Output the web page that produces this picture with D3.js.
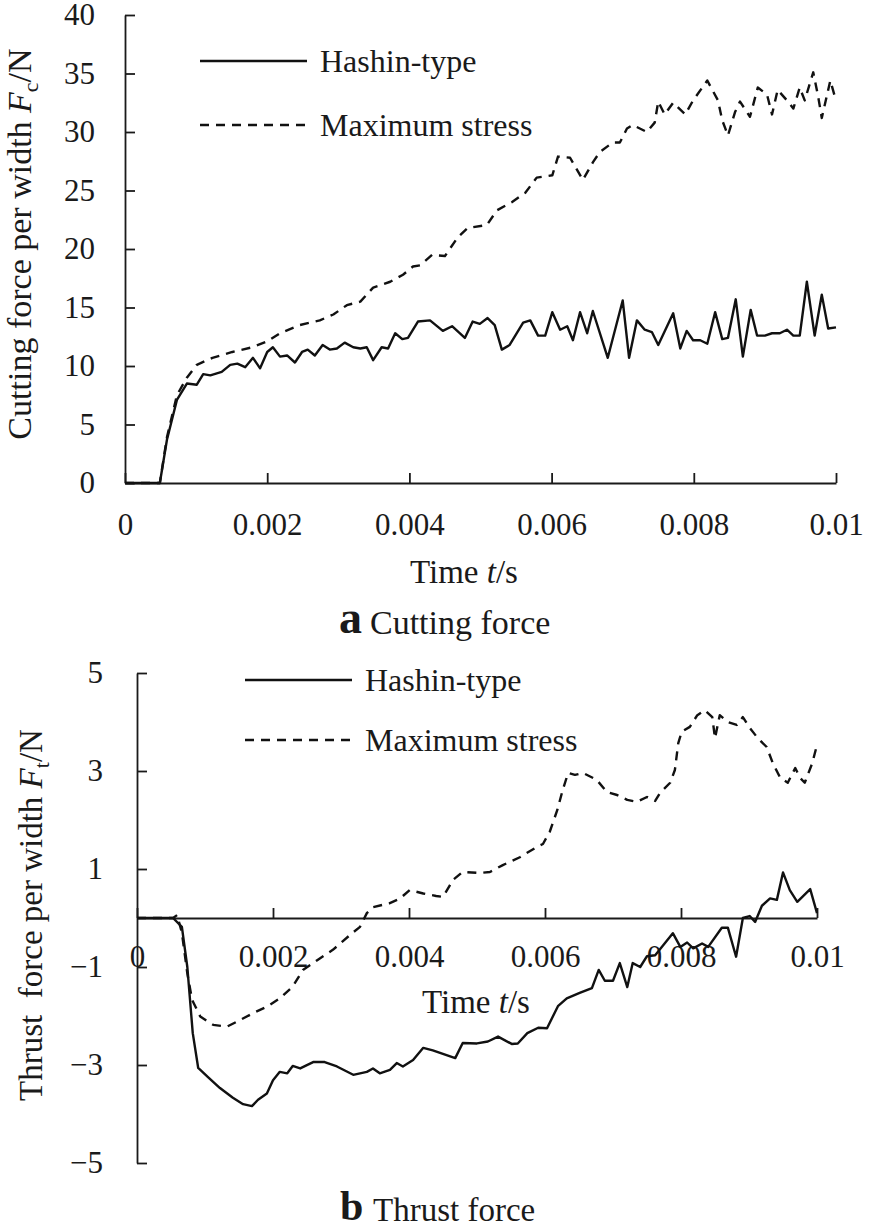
<!DOCTYPE html>
<html>
<head>
<meta charset="utf-8">
<script src="https://cdn.jsdelivr.net/npm/d3@7"></script>
<style>
  html, body { margin: 0; padding: 0; background: #fff; }
  svg { display: block; }
  text { font-family: "Liberation Serif", "Times New Roman", serif; fill: #1a1a1a; }
</style>
</head>
<body>
<svg id="chart" width="874" height="1232"></svg>
<script>
// ---------------- DATA ----------------
const xTicks = [0, 0.002, 0.004, 0.006, 0.008, 0.01];
const xTickLabels = ["0", "0.002", "0.004", "0.006", "0.008", "0.01"];
const yTicksA = [0, 5, 10, 15, 20, 25, 30, 35, 40];
const yTicksB = [5, 3, 1, -1, -3, -5];
const seriesNames = ["Hashin-type", "Maximum stress"];

// (a) Cutting force, Hashin-type
const timeCutHashin = [0, 0.00049, 0.00059, 0.00073, 0.00087, 0.00101, 0.0011, 0.0012, 0.00136, 0.00148, 0.00158, 0.00169, 0.0018, 0.0019, 0.002, 0.00208, 0.00218, 0.00228, 0.00239, 0.00249, 0.00257, 0.00267, 0.00278, 0.00288, 0.00298, 0.00309, 0.00321, 0.00331, 0.0034, 0.00349, 0.00361, 0.0037, 0.0038, 0.0039, 0.00398, 0.00412, 0.00429, 0.00447, 0.0046, 0.00478, 0.00489, 0.00499, 0.0051, 0.0052, 0.0053, 0.00541, 0.0056, 0.0057, 0.00581, 0.00591, 0.00601, 0.00612, 0.00622, 0.0063, 0.0064, 0.0065, 0.00658, 0.00679, 0.007, 0.00709, 0.0072, 0.00731, 0.00741, 0.0075, 0.00771, 0.00781, 0.0079, 0.00799, 0.00809, 0.00819, 0.0083, 0.0084, 0.00848, 0.00859, 0.00869, 0.0088, 0.00889, 0.009, 0.0091, 0.00921, 0.00931, 0.0094, 0.00949, 0.00959, 0.0097, 0.0098, 0.00989, 0.01];
const forceCutHashin = [0, 0, 3.7, 7.1, 8.5, 8.4, 9.3, 9.2, 9.5, 10.1, 10.2, 9.9, 10.7, 9.8, 11.2, 11.6, 10.8, 10.9, 10.3, 11.2, 11.4, 10.9, 11.8, 11.4, 11.5, 12.0, 11.6, 11.5, 11.6, 10.5, 11.6, 11.5, 12.8, 12.3, 12.4, 13.8, 13.9, 13.0, 13.4, 12.4, 13.8, 13.6, 14.1, 13.5, 11.4, 11.8, 13.7, 13.9, 12.6, 12.6, 14.6, 13.1, 13.4, 12.2, 14.6, 12.8, 14.7, 10.7, 15.6, 10.7, 13.9, 13.1, 12.9, 11.8, 14.5, 11.5, 13.0, 12.2, 12.2, 11.9, 14.6, 12.3, 12.4, 15.7, 10.8, 14.8, 12.6, 12.6, 12.8, 12.8, 13.1, 12.6, 12.6, 17.2, 12.6, 16.1, 13.2, 13.3];

// (a) Cutting force, Maximum stress
const timeCutMax = [0, 0.00049, 0.00059, 0.00073, 0.00087, 0.00101, 0.00123, 0.00151, 0.00179, 0.002, 0.00218, 0.00246, 0.00274, 0.00293, 0.00312, 0.00331, 0.00349, 0.00373, 0.00391, 0.00405, 0.00415, 0.00432, 0.0045, 0.00468, 0.00482, 0.00509, 0.00523, 0.00544, 0.00563, 0.00579, 0.00601, 0.00609, 0.00626, 0.00644, 0.00658, 0.00668, 0.00686, 0.00696, 0.00706, 0.00714, 0.00734, 0.00745, 0.0075, 0.00759, 0.00771, 0.00788, 0.00799, 0.00819, 0.00834, 0.0084, 0.00848, 0.00858, 0.00865, 0.00879, 0.0089, 0.00903, 0.0091, 0.00918, 0.00931, 0.0094, 0.00949, 0.00956, 0.00968, 0.00975, 0.0098, 0.00992, 0.00999];
const forceCutMax = [0, 0, 3.9, 7.5, 9.0, 10.1, 10.7, 11.2, 11.6, 12.1, 12.8, 13.5, 13.9, 14.4, 15.2, 15.5, 16.7, 17.2, 17.8, 18.5, 18.6, 19.5, 19.4, 21.0, 21.8, 22.05, 23.3, 24.0, 24.8, 26.1, 26.3, 27.9, 27.8, 25.9, 27.4, 28.3, 29.1, 29.1, 30.3, 30.6, 30.0, 30.8, 32.6, 31.5, 32.5, 31.5, 32.7, 34.4, 32.7, 31.0, 29.7, 31.7, 32.6, 31.3, 33.8, 33.2, 31.5, 33.6, 32.7, 32.0, 33.8, 32.7, 35.1, 33.0, 31.2, 34.4, 32.9];

// (b) Thrust force, Hashin-type
const timeThrHashin = [0, 0.00053, 0.00066, 0.00074, 0.00082, 0.0009, 0.00104, 0.00122, 0.00141, 0.00156, 0.00169, 0.00178, 0.00191, 0.002, 0.0021, 0.00221, 0.00229, 0.0024, 0.00259, 0.00276, 0.00294, 0.00318, 0.00338, 0.00347, 0.00357, 0.00372, 0.00382, 0.00391, 0.00406, 0.00421, 0.00435, 0.00468, 0.00479, 0.005, 0.00516, 0.00531, 0.00551, 0.0056, 0.00574, 0.0059, 0.00603, 0.00619, 0.00632, 0.00651, 0.00669, 0.00679, 0.00688, 0.007, 0.0071, 0.00721, 0.00729, 0.0074, 0.0075, 0.00762, 0.00788, 0.00799, 0.00809, 0.00818, 0.00831, 0.0084, 0.0086, 0.00869, 0.00881, 0.00891, 0.00901, 0.00909, 0.00919, 0.00931, 0.00941, 0.0095, 0.0096, 0.00971, 0.0099, 0.01];
const forceThrHashin = [0, 0, -0.18, -1.0, -2.35, -3.06, -3.24, -3.47, -3.67, -3.8, -3.84, -3.71, -3.58, -3.31, -3.14, -3.17, -3.02, -3.07, -2.94, -2.94, -3.03, -3.2, -3.14, -3.07, -3.17, -3.1, -2.96, -3.03, -2.9, -2.65, -2.7, -2.86, -2.55, -2.56, -2.52, -2.42, -2.57, -2.56, -2.35, -2.24, -2.25, -1.8, -1.64, -1.53, -1.43, -1.06, -1.28, -1.28, -0.92, -1.41, -0.92, -1.0, -0.78, -0.76, -0.31, -0.59, -0.5, -0.62, -0.52, -0.59, -0.2, -0.2, -0.79, 0, 0.04, -0.08, 0.25, 0.4, 0.37, 0.93, 0.57, 0.33, 0.59, 0.1];

// (b) Thrust force, Maximum stress
const timeThrMax = [0, 0.00053, 0.00059, 0.00066, 0.00074, 0.00081, 0.00093, 0.00112, 0.00132, 0.00152, 0.00171, 0.00191, 0.0021, 0.00229, 0.00244, 0.00265, 0.00288, 0.00313, 0.00328, 0.00338, 0.00347, 0.00371, 0.00387, 0.00401, 0.00421, 0.0044, 0.0045, 0.00465, 0.00479, 0.00504, 0.00519, 0.00538, 0.00563, 0.00588, 0.00597, 0.00607, 0.00618, 0.00626, 0.00634, 0.00644, 0.00656, 0.00676, 0.00691, 0.00706, 0.00721, 0.00735, 0.0075, 0.00762, 0.00769, 0.00784, 0.00791, 0.00796, 0.00801, 0.00813, 0.00824, 0.00835, 0.00846, 0.0085, 0.00857, 0.00869, 0.00882, 0.00891, 0.00901, 0.00913, 0.00926, 0.00935, 0.00946, 0.00957, 0.00968, 0.00975, 0.00982, 0.00993, 0.01];
const forceThrMax = [0, 0, 0.06, -0.3, -1.13, -1.67, -2.01, -2.18, -2.22, -2.08, -1.94, -1.81, -1.64, -1.4, -1.06, -0.86, -0.65, -0.35, -0.18, 0.1, 0.22, 0.3, 0.4, 0.57, 0.5, 0.45, 0.43, 0.78, 0.94, 0.92, 0.94, 1.08, 1.24, 1.45, 1.51, 1.76, 2.2, 2.61, 2.96, 2.92, 2.96, 2.82, 2.57, 2.51, 2.41, 2.37, 2.47, 2.39, 2.55, 2.76, 3.02, 3.57, 3.8, 3.9, 4.14, 4.24, 4.1, 3.67, 4.14, 4.0, 3.94, 4.1, 3.88, 3.67, 3.49, 3.16, 2.86, 2.76, 3.06, 2.86, 2.76, 3.16, 3.53];

// ---------------- DRAWING ----------------
const svg = d3.select("#chart");
const INK = "#1a1a1a";
const DASH = "9,7";
const SERIF = '"Liberation Serif", "Times New Roman", serif';

function styleAxis(g, fontSize) {
  g.attr("font-family", SERIF);
  g.select(".domain").attr("stroke", INK).attr("stroke-width", 1.8);
  g.selectAll(".tick line").attr("stroke", INK).attr("stroke-width", 1.8);
  g.selectAll(".tick text").attr("font-size", fontSize).attr("fill", INK)
    .style("font-family", SERIF);
}

function drawLine(g, x, y, times, vals, dashed) {
  const pts = d3.zip(times, vals);
  const line = d3.line().x(d => x(d[0])).y(d => y(d[1]));
  g.append("path").datum(pts)
    .attr("d", line)
    .attr("fill", "none")
    .attr("stroke", "#111")
    .attr("stroke-width", 2.4)
    .attr("stroke-linejoin", "round")
    .attr("stroke-dasharray", dashed ? DASH : null);
}

function legend(g, x0, x1, yS, yD, tx) {
  g.append("line").attr("x1", x0).attr("x2", x1).attr("y1", yS).attr("y2", yS)
    .attr("stroke", "#111").attr("stroke-width", 2.4);
  g.append("line").attr("x1", x0).attr("x2", x1).attr("y1", yD).attr("y2", yD)
    .attr("stroke", "#111").attr("stroke-width", 2.4).attr("stroke-dasharray", DASH);
  g.append("text").attr("x", tx).attr("y", yS + 11).attr("font-size", 32).text(seriesNames[0]);
  g.append("text").attr("x", tx).attr("y", yD + 11).attr("font-size", 32).text(seriesNames[1]);
}

// ----- Chart (a) -----
const xA = d3.scaleLinear().domain([0, 0.01]).range([125, 836]);
const yA = d3.scaleLinear().domain([0, 40]).range([483, 15]);
const gA = svg.append("g");

gA.append("g").attr("transform", `translate(${xA(0)},0)`)
  .call(d3.axisLeft(yA).tickValues(yTicksA).tickSize(-10).tickSizeOuter(0).tickPadding(30))
  .call(g => styleAxis(g, 31));
gA.append("g").attr("transform", `translate(0,${yA(0)})`)
  .call(d3.axisBottom(xA).tickValues(xTicks).tickFormat((d, i) => xTickLabels[i])
        .tickSize(-10).tickSizeOuter(0).tickPadding(30))
  .call(g => styleAxis(g, 31));

drawLine(gA, xA, yA, timeCutMax, forceCutMax, true);
drawLine(gA, xA, yA, timeCutHashin, forceCutHashin, false);
legend(gA, 200, 307, 61, 125, 320);

const ylA = gA.append("text").attr("transform", "translate(31,244) rotate(-90)")
  .attr("text-anchor", "middle").attr("font-size", 34);
ylA.append("tspan").text("Cutting force per width ");
ylA.append("tspan").attr("font-style", "italic").text("F");
ylA.append("tspan").attr("font-size", 22).attr("dy", 7).text("c");
ylA.append("tspan").attr("dy", -7).text("/N");

const xlA = gA.append("text").attr("x", 410).attr("y", 583).attr("font-size", 33);
xlA.append("tspan").text("Time ");
xlA.append("tspan").attr("font-style", "italic").text("t");
xlA.append("tspan").text("/s");

gA.append("text").attr("x", 339).attr("y", 633).attr("font-size", 46).attr("font-weight", "bold").text("a");
gA.append("text").attr("x", 370).attr("y", 634).attr("font-size", 34).text("Cutting force");

// ----- Chart (b) -----
const xB = d3.scaleLinear().domain([0, 0.01]).range([137, 817]);
const yB = d3.scaleLinear().domain([-5, 5]).range([1163, 673]);
const gB = svg.append("g");

gB.append("g").attr("transform", `translate(${xB(0)},0)`)
  .call(d3.axisLeft(yB).tickValues(yTicksB).tickSize(-10).tickSizeOuter(0).tickPadding(34))
  .call(g => styleAxis(g, 31));
gB.append("g").attr("transform", `translate(0,${yB(0)})`)
  .call(d3.axisBottom(xB).tickValues(xTicks).tickFormat((d, i) => xTickLabels[i])
        .tickSize(-10).tickSizeOuter(0).tickPadding(27))
  .call(g => styleAxis(g, 31));

drawLine(gB, xB, yB, timeThrMax, forceThrMax, true);
drawLine(gB, xB, yB, timeThrHashin, forceThrHashin, false);
legend(gB, 245, 352, 680, 740, 365);

const ylB = gB.append("text").attr("transform", "translate(42,915) rotate(-90)")
  .attr("text-anchor", "middle").attr("font-size", 33).attr("xml:space", "preserve")
  .style("white-space", "pre");
ylB.append("tspan").text("Thrust  force per width ");
ylB.append("tspan").attr("font-style", "italic").text("F");
ylB.append("tspan").attr("font-size", 22).attr("dy", 7).text("t");
ylB.append("tspan").attr("dy", -7).text("/N");

const xlB = gB.append("text").attr("x", 422).attr("y", 1013).attr("font-size", 33);
xlB.append("tspan").text("Time ");
xlB.append("tspan").attr("font-style", "italic").text("t");
xlB.append("tspan").text("/s");

gB.append("text").attr("x", 340).attr("y", 1220).attr("font-size", 42).attr("font-weight", "bold").text("b");
gB.append("text").attr("x", 373).attr("y", 1221).attr("font-size", 33).text("Thrust force");
</script>
</body>
</html>
